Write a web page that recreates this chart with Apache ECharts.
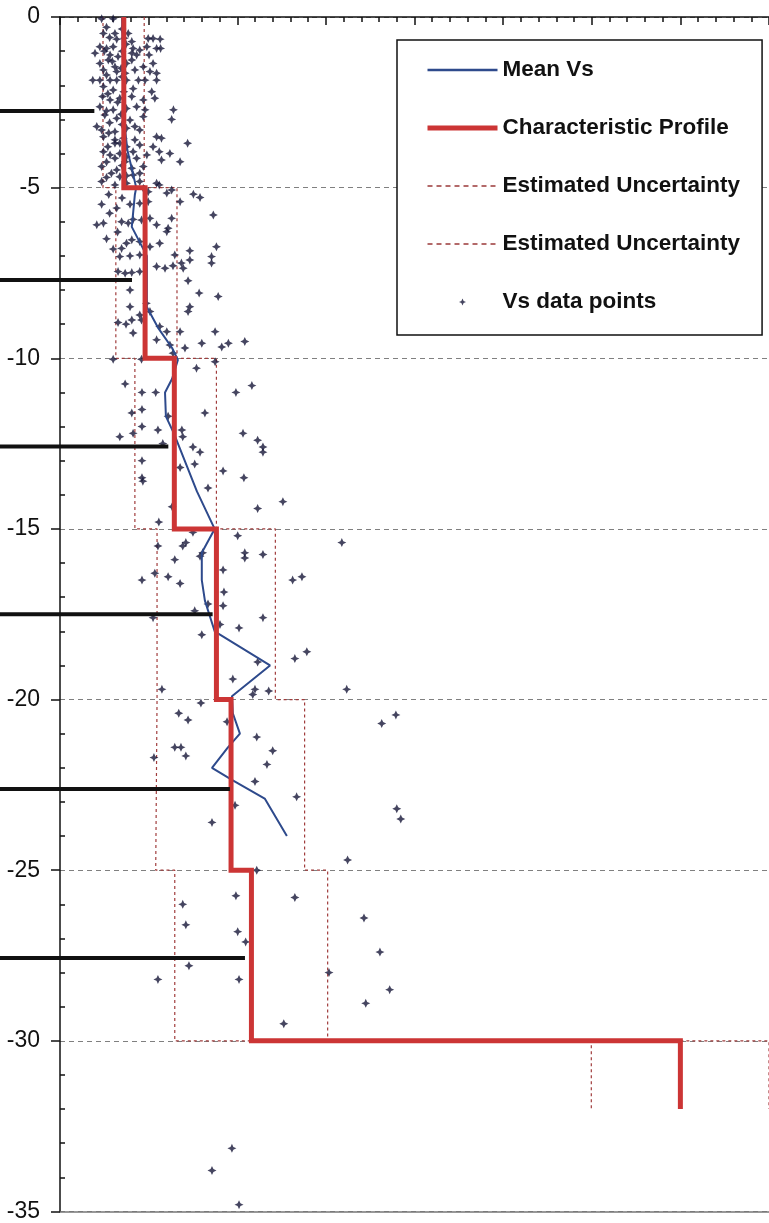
<!DOCTYPE html>
<html>
<head>
<meta charset="utf-8">
<script src="https://cdn.jsdelivr.net/npm/echarts@6/dist/echarts.min.js"></script>
<style>
  html, body { margin: 0; padding: 0; background: #ffffff; }
  #chart { width: 769px; height: 1223px; }
</style>
</head>
<body>
<div id="chart"></div>
<script>
// Shear-wave velocity (Vs, m/s) against depth (m, negative downwards)

// Characteristic profile layers and their uncertainty band
const layerTop    = [0, -5, -10, -15, -20, -25, -30];
const layerBottom = [-5, -10, -15, -20, -25, -30, -32];
const profileVs   = [144, 192, 258, 353, 386, 432, 1400];
const lowerVs     = [97, 126, 169, 219, 216, 259, 1199];
const upperVs     = [190, 264, 353, 486, 552, 604, 1600];

// Mean Vs with depth
const meanDepth = [0, -1.3, -2.4, -3.3, -3.9, -4.5, -5.0, -5.2, -6.15, -7.0, -8.5, -9.1, -9.7, -10.05,
                   -10.6, -11.0, -11.7, -12.2, -13.9, -15.0, -15.7, -16.5, -17.1, -18.0, -19.0,
                   -19.9, -20.4, -21.0, -21.4, -22.0, -22.35, -22.9, -24.0];
const meanVs    = [140, 142, 144, 147, 152, 163, 172, 169, 162, 196, 196, 221, 253, 266,
                   253, 237, 239, 257, 309, 349, 320, 320, 327, 349, 474,
                   388, 390, 406, 379, 343, 388, 462, 512];

// Borehole layer boundaries (depth, extent in Vs units)
const boundaryDepth = [-2.75, -7.7, -12.58, -17.49, -22.61, -27.56];
const boundaryEnd   = [77, 162, 244, 344, 383, 417];

// Individual Vs measurements [Vs, depth]
const points0to5 = [
  [94,-0.05],[120,-0.05],
  [105,-0.3],[140,-0.35],
  [98,-0.48],[124,-0.48],[154,-0.48],
  [112,-0.6],[145,-0.62],
  [128,-0.65],[162,-0.72],[199,-0.63],[210,-0.63],[226,-0.65],
  [90,-0.87],[105,-0.92],[120,-0.87],[149,-0.8],[165,-0.92],[180,-0.97],[196,-0.87],[218,-0.92],[227,-0.92],
  [100,-1.0],[140,-1.0],
  [79,-1.06],[113,-1.11],[131,-1.16],[162,-1.06],[173,-1.11],[201,-1.11],
  [118,-1.3],[138,-1.5],
  [90,-1.36],[109,-1.26],[124,-1.46],[150,-1.36],[162,-1.26],[188,-1.46],[210,-1.36],
  [98,-1.55],[128,-1.6],[147,-1.65],[169,-1.55],[203,-1.6],[218,-1.65],
  [105,-1.7],[140,-1.75],
  [74,-1.85],[90,-1.85],[113,-1.85],[128,-1.85],[150,-1.85],[177,-1.85],[192,-1.85],[218,-1.85],
  [98,-2.04],[120,-2.14],[144,-2.19],[165,-2.1],[207,-2.19],
  [108,-2.25],[130,-2.5],
  [96,-2.33],[113,-2.43],[135,-2.38],[162,-2.33],[188,-2.43],[214,-2.38],
  [90,-2.63],[120,-2.72],[150,-2.68],[173,-2.63],[192,-2.72],[256,-2.72],
  [105,-2.75],[138,-2.85],
  [101,-2.87],[128,-2.97],[158,-3.02],[188,-2.92],[252,-3.0],
  [112,-3.1],[140,-3.15],
  [83,-3.21],[94,-3.31],[124,-3.36],[150,-3.26],[169,-3.21],[180,-3.31],
  [110,-3.4],[135,-3.7],
  [98,-3.51],[124,-3.6],[143,-3.55],[169,-3.6],[218,-3.51],[229,-3.55],
  [124,-3.7],[150,-3.8],[180,-3.75],[210,-3.8],[288,-3.7],
  [108,-3.8],[150,-4.1],
  [98,-3.95],[113,-4.04],[135,-4.0],[165,-3.95],[196,-4.04],[224,-3.95],[248,-4.0],
  [124,-4.14],[147,-4.24],[173,-4.14],[229,-4.19],[271,-4.24],
  [105,-4.25],[140,-4.35],
  [94,-4.38],[128,-4.48],[162,-4.43],[188,-4.38],
  [116,-4.58],[135,-4.68],[165,-4.63],[180,-4.58],
  [105,-4.7],[150,-4.65],
  [94,-4.82],[124,-4.92],[150,-4.87],[180,-4.82],[218,-4.87],[224,-4.92]
];
const points5to10 = [
  [188,-5.02],[199,-5.12],[241,-5.16],[252,-5.07],[301,-5.19],[316,-5.29],
  [110,-5.2],[140,-5.3],
  [94,-5.49],[128,-5.6],[158,-5.49],[180,-5.46],[199,-5.41],[271,-5.41],
  [112,-5.75],
  [83,-6.09],[98,-6.04],[139,-6.0],[154,-6.04],[165,-5.93],[184,-5.95],[203,-5.9],[218,-6.09],
  [244,-6.19],[241,-6.29],[252,-5.9],[346,-5.8],
  [130,-6.3],[105,-6.5],
  [120,-6.8],[139,-6.78],[150,-6.63],[162,-6.53],[180,-6.58],[203,-6.73],[225,-6.63],[293,-6.85],[353,-6.73],
  [135,-7.02],[158,-7.0],[180,-6.97],[259,-6.97],[293,-7.12],[342,-7.02],
  [131,-7.46],[147,-7.51],[162,-7.49],[180,-7.46],[218,-7.31],[237,-7.36],[255,-7.29],[274,-7.21],[342,-7.21],[278,-7.36],
  [158,-8.0],[289,-7.73],[314,-8.09],[357,-8.19],
  [158,-8.49],[195,-8.39],[180,-8.73],[293,-8.49],[289,-8.63],[203,-8.63],
  [131,-8.95],[149,-9.0],[162,-8.88],[184,-8.88],[225,-9.07],[241,-9.22],[271,-9.22],[165,-9.26],[350,-9.22],
  [218,-9.46],[320,-9.56],[365,-9.67],[380,-9.56],[417,-9.51],[248,-9.61],
  [282,-9.7],[255,-9.85],[120,-10.03],[184,-10.03],[350,-10.1],[308,-10.29]
];
const points10to20 = [
  [147,-10.75],[185,-11.0],[216,-11.0],[397,-11.0],[433,-10.8],
  [162,-11.6],[185,-11.5],[327,-11.6],[244,-11.7],[185,-12.0],[165,-12.2],[221,-12.1],[275,-12.1],
  [135,-12.3],[413,-12.2],[446,-12.4],[277,-12.3],[458,-12.6],[458,-12.75],[300,-12.6],[316,-12.75],[232,-12.5],
  [185,-13.0],[271,-13.2],[304,-13.1],[185,-13.5],[187,-13.6],[368,-13.3],[415,-13.5],[334,-13.8],
  [253,-14.35],[446,-14.4],[503,-14.2],[223,-14.8],
  [300,-15.1],[401,-15.2],[636,-15.4],[284,-15.4],[277,-15.5],[417,-15.7],[417,-15.85],[458,-15.75],
  [259,-15.9],[316,-15.8],[322,-15.7],[221,-15.5],
  [368,-16.2],[214,-16.3],[244,-16.4],[185,-16.5],[271,-16.6],[525,-16.5],[546,-16.4],
  [370,-16.85],[368,-17.25],[334,-17.2],[304,-17.4],[458,-17.6],[210,-17.6],[361,-17.8],[404,-17.9],
  [320,-18.1],[557,-18.6],[530,-18.8],[446,-18.9],[390,-19.4],
  [230,-19.7],[440,-19.7],[435,-19.85],[471,-19.75],[647,-19.7]
];
const points20to35 = [
  [318,-20.1],[268,-20.4],[289,-20.6],[377,-20.65],[444,-21.1],[480,-21.5],[467,-21.9],
  [259,-21.4],[273,-21.4],[284,-21.65],[212,-21.7],[440,-22.4],[534,-22.85],[395,-23.1],[343,-23.6],
  [758,-20.45],[726,-20.7],[760,-23.2],[769,-23.5],[649,-24.7],
  [444,-25.0],[397,-25.75],[530,-25.8],[277,-26.0],[284,-26.6],[401,-26.8],[419,-27.1],[686,-26.4],[722,-27.4],
  [291,-27.8],[221,-28.2],[404,-28.2],[607,-28.0],[744,-28.5],[690,-28.9],[505,-29.5],
  [388,-33.15],[343,-33.8],[404,-34.8]
];

// Step polyline through a set of layer velocities
function stepLine(vs) {
  const out = [];
  vs.forEach((v, i) => { out.push([v, layerTop[i]], [v, layerBottom[i]]); });
  return out;
}

const FONT = "'Liberation Sans', Arial, sans-serif";
const VS_MAX = 1600;
const LEFT_EDGE = -136;   // Vs value that falls on the left edge of the canvas
const STAR = 'path://M5,0 L6.6,3.4 L10,5 L6.6,6.6 L5,10 L3.4,6.6 L0,5 L3.4,3.4 Z';
const HIDDEN = { show: false };
const UNCERTAINTY_STYLE = { color: '#a03c3c', width: 1.2, type: [3, 3] };

const chart = echarts.init(document.getElementById('chart'), null, { renderer: 'canvas' });

// Boundary lines live on an overlay grid that reaches the canvas edge,
// sharing the same Vs / depth scale as the main plot.
const boundarySeries = boundaryDepth.map((d, i) => ({
  type: 'line',
  name: 'boundary' + i,
  xAxisIndex: 2, yAxisIndex: 1,
  data: [[LEFT_EDGE, d], [boundaryEnd[i], d]],
  symbol: 'none',
  silent: true,
  z: 6,
  lineStyle: { color: '#111111', width: 4 }
}));

const lineLegend = (name, lineStyle) => ({ name, itemStyle: { opacity: 0 }, lineStyle });

chart.setOption({
  animation: false,
  backgroundColor: '#ffffff',
  grid: [
    { left: 60, right: 0, top: 17, bottom: 11, containLabel: false },
    { left: 0, right: 0, top: 17, bottom: 11, containLabel: false }
  ],
  xAxis: [
    {
      type: 'value', gridIndex: 0, position: 'top', min: 0, max: VS_MAX, interval: 200,
      axisLine: { show: true, lineStyle: { color: '#111111', width: 1.5 } },
      axisTick: { show: true, inside: true, length: 8, lineStyle: { color: '#111111', width: 1.5 } },
      minorTick: { show: true, splitNumber: 5, length: 5, lineStyle: { color: '#111111', width: 1.5 } },
      axisLabel: HIDDEN,
      splitLine: HIDDEN
    },
    {
      type: 'value', gridIndex: 0, position: 'bottom', min: 0, max: VS_MAX,
      axisLine: { show: true, lineStyle: { color: '#777777', width: 1.5 } },
      axisTick: HIDDEN, axisLabel: HIDDEN, splitLine: HIDDEN
    },
    {
      type: 'value', gridIndex: 1, min: LEFT_EDGE, max: VS_MAX,
      axisLine: HIDDEN, axisTick: HIDDEN, axisLabel: HIDDEN, splitLine: HIDDEN
    }
  ],
  yAxis: [
    {
      type: 'value', gridIndex: 0, min: -35, max: 0, interval: 5,
      axisLine: { show: true, onZero: false, lineStyle: { color: '#111111', width: 1.5 } },
      axisTick: { show: true, inside: false, length: 9, lineStyle: { color: '#111111', width: 1.5 } },
      minorTick: { show: true, splitNumber: 5, length: -5, lineStyle: { color: '#111111', width: 1.5 } },
      axisLabel: { color: '#111111', fontSize: 23, fontFamily: FONT, margin: 20 },
      splitLine: { show: true, lineStyle: { color: '#808080', width: 1, type: [5, 4] } }
    },
    {
      type: 'value', gridIndex: 1, min: -35, max: 0,
      axisLine: HIDDEN, axisTick: HIDDEN, axisLabel: HIDDEN, splitLine: HIDDEN
    }
  ],
  legend: {
    orient: 'vertical',
    left: 397, top: 40,
    padding: [18, 22, 21, 28],
    itemGap: 34,
    itemWidth: 70, itemHeight: 7,
    backgroundColor: '#ffffff',
    borderColor: '#111111', borderWidth: 1.5,
    textStyle: { color: '#111111', fontFamily: FONT, fontWeight: 'bold', fontSize: 22.5, lineHeight: 24 },
    formatter: name => name.replace(/ \(.*\)$/, ''),
    data: [
      lineLegend('Mean Vs', { color: '#2e4a8c', width: 2.5 }),
      lineLegend('Characteristic Profile', { color: '#cc3535', width: 5 }),
      lineLegend('Estimated Uncertainty (lower)', { color: '#9a3838', width: 1.6, type: [5, 4] }),
      lineLegend('Estimated Uncertainty (upper)', { color: '#9a3838', width: 1.6, type: [5, 4] }),
      'Vs data points'
    ],
    selectedMode: false
  },
  series: [
    {
      type: 'line', name: 'Estimated Uncertainty (lower)', data: stepLine(lowerVs),
      symbol: 'none', z: 2, lineStyle: UNCERTAINTY_STYLE
    },
    {
      type: 'line', name: 'Estimated Uncertainty (upper)', data: stepLine(upperVs),
      symbol: 'none', z: 2, lineStyle: UNCERTAINTY_STYLE
    },
    {
      type: 'scatter', name: 'Vs data points',
      data: points0to5.concat(points5to10, points10to20, points20to35),
      symbol: STAR, symbolSize: 9, z: 3,
      itemStyle: { color: '#161638' }
    },
    {
      type: 'line', name: 'Mean Vs', data: meanVs.map((v, i) => [v, meanDepth[i]]),
      symbol: 'none', z: 4, lineStyle: { color: '#2e4a8c', width: 2 }
    },
    {
      type: 'line', name: 'Characteristic Profile', data: stepLine(profileVs),
      symbol: 'none', z: 5, lineStyle: { color: '#cc3535', width: 5, cap: 'butt', join: 'miter' }
    }
  ].concat(boundarySeries)
});
</script>
</body>
</html>
